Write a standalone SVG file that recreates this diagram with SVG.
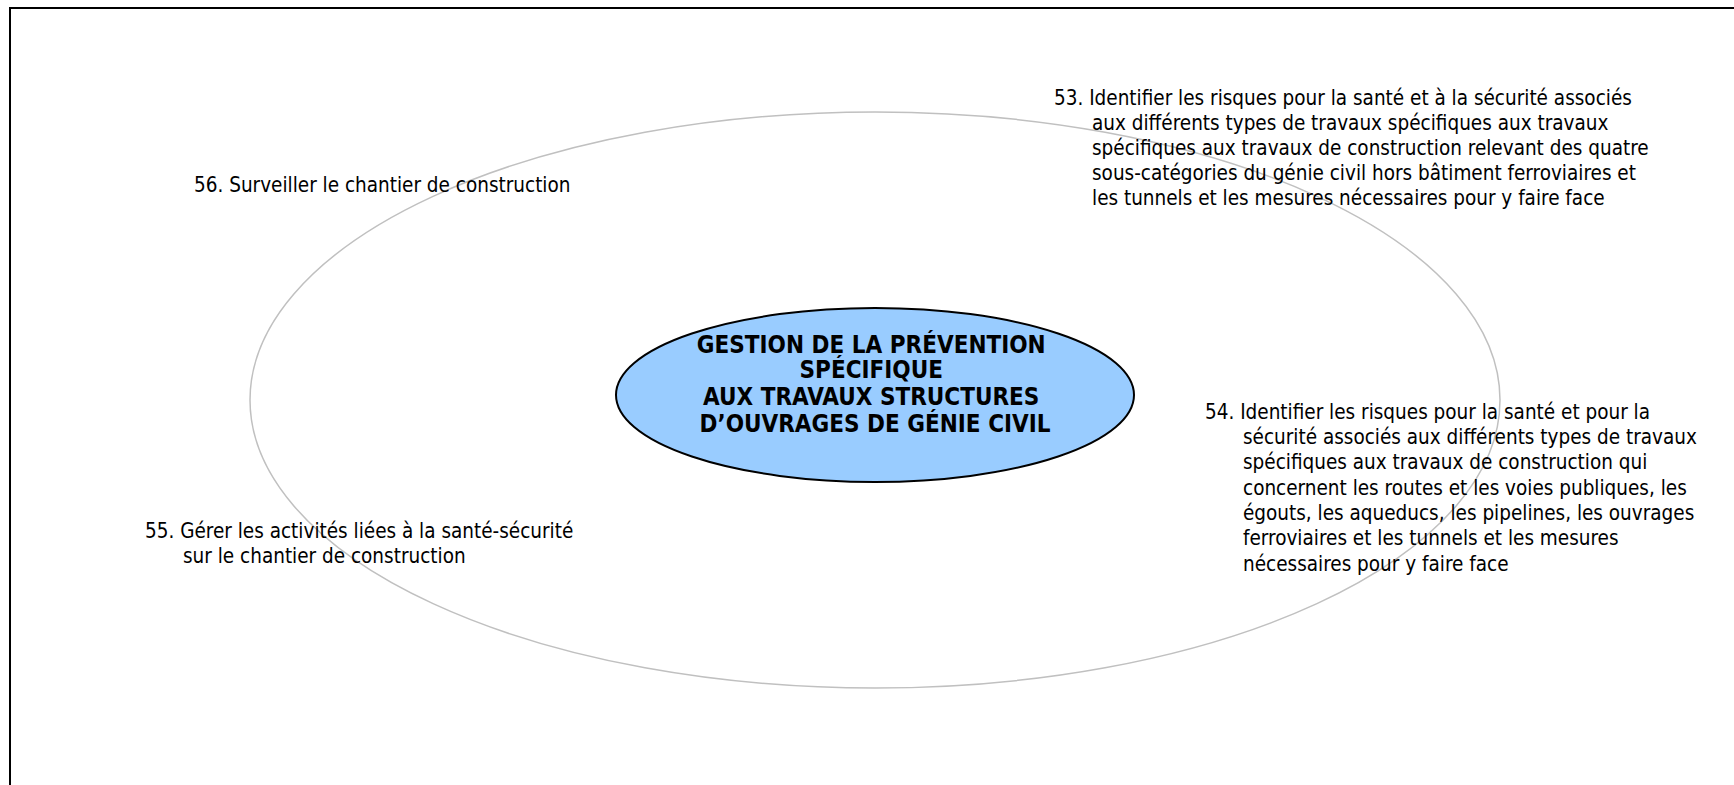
<svg xmlns="http://www.w3.org/2000/svg" width="1734" height="785" viewBox="0 0 1734 785">
  <style>
    .lbl { font-family: "DejaVu Sans Condensed", "DejaVu Sans", sans-serif; font-size: 20.5px; fill: #000; }
    .hub { font-family: "DejaVu Sans Condensed", "DejaVu Sans", sans-serif; font-size: 24px; font-weight: bold; fill: #000; text-anchor: middle; }
  </style>
  <rect width="1734" height="785" fill="#fff"/>
  <!-- page frame (left and top edges) -->
  <path d="M10,785 V8 H1734" fill="none" stroke="#000" stroke-width="2"/>
  <!-- orbit ring -->
  <g id="connectors">
    <ellipse cx="875" cy="400" rx="625" ry="288" fill="none" stroke="#c0c0c0" stroke-width="1.5"/>
  </g>
  <g id="hub">
    <ellipse cx="875" cy="395" rx="259" ry="87" fill="#99ccff" stroke="#000" stroke-width="2"/>
    <text class="hub">
      <tspan x="875" y="353">GESTION DE LA PRÉVENTION</tspan>
      <tspan x="875" y="378">SPÉCIFIQUE</tspan>
      <tspan x="875" y="405">AUX TRAVAUX STRUCTURES</tspan>
      <tspan x="875" y="432">D’OUVRAGES DE GÉNIE CIVIL</tspan>
    </text>
  </g>
  <g id="item53">
    <text class="lbl">
      <tspan x="1054" y="105">53. Identifier les risques pour la santé et à la sécurité associés</tspan>
      <tspan x="1092" y="130">aux différents types de travaux spécifiques aux travaux</tspan>
      <tspan x="1092" y="155">spécifiques aux travaux de construction relevant des quatre</tspan>
      <tspan x="1092" y="180">sous-catégories du génie civil hors bâtiment ferroviaires et</tspan>
      <tspan x="1092" y="205">les tunnels et les mesures nécessaires pour y faire face</tspan>
    </text>
  </g>
  <g id="item54">
    <text class="lbl">
      <tspan x="1205" y="419">54. Identifier les risques pour la santé et pour la</tspan>
      <tspan x="1243" y="444">sécurité associés aux différents types de travaux</tspan>
      <tspan x="1243" y="469">spécifiques aux travaux de construction qui</tspan>
      <tspan x="1243" y="495">concernent les routes et les voies publiques, les</tspan>
      <tspan x="1243" y="520">égouts, les aqueducs, les pipelines, les ouvrages</tspan>
      <tspan x="1243" y="545">ferroviaires et les tunnels et les mesures</tspan>
      <tspan x="1243" y="571">nécessaires pour y faire face</tspan>
    </text>
  </g>
  <g id="item55">
    <text class="lbl">
      <tspan x="145" y="538">55. Gérer les activités liées à la santé-sécurité</tspan>
      <tspan x="183" y="563">sur le chantier de construction</tspan>
    </text>
  </g>
  <g id="item56">
    <text class="lbl" x="194" y="192">56. Surveiller le chantier de construction</text>
  </g>
</svg>
